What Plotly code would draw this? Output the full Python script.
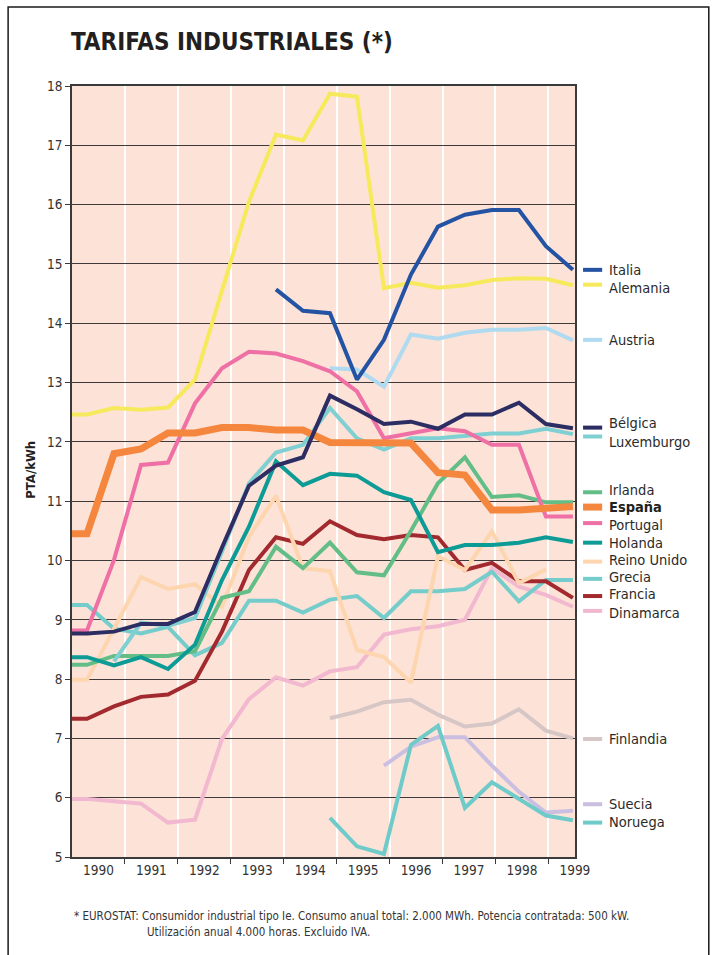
import plotly.graph_objects as go

# Semesters; the first entry only provides the lead-in at the left edge of the plot
periodos = ["1989-II",
            "1990-I", "1990-II", "1991-I", "1991-II", "1992-I", "1992-II",
            "1993-I", "1993-II", "1994-I", "1994-II", "1995-I", "1995-II",
            "1996-I", "1996-II", "1997-I", "1997-II", "1998-I", "1998-II",
            "1999-I"]
anios = ["1990", "1991", "1992", "1993", "1994", "1995", "1996", "1997", "1998", "1999"]

N = None
italia = [N, N, N, N, N, N, N, N, 14.57, 14.21, 14.17, 13.05, 13.72, 14.82, 15.63, 15.83, 15.91, 15.91, 15.30, 14.90]
alemania = [12.46, 12.46, 12.57, 12.54, 12.58, 13.05, 14.55, 16.05, 17.18, 17.08, 17.87, 17.82, 14.59, 14.68, 14.60, 14.64, 14.73, 14.76, 14.75, 14.64]
austria = [N, N, N, N, N, N, N, N, N, N, 13.24, 13.22, 12.93, 13.81, 13.74, 13.84, 13.89, 13.89, 13.92, 13.71]
belgica = [8.77, 8.77, 8.80, 8.93, 8.93, 9.13, 10.22, 11.26, 11.60, 11.74, 12.78, 12.55, 12.30, 12.34, 12.22, 12.46, 12.46, 12.66, 12.30, 12.23]
luxemburgo = [N, N, 8.30, 8.95, 8.90, 9.03, 10.15, 11.30, 11.82, 11.95, 12.57, 12.06, 11.87, 12.06, 12.06, 12.10, 12.14, 12.14, 12.22, 12.13]
irlanda = [8.24, 8.24, 8.39, 8.39, 8.39, 8.47, 9.37, 9.48, 10.23, 9.87, 10.30, 9.80, 9.75, 10.50, 11.30, 11.74, 11.07, 11.10, 10.98, 10.98]
espana = [10.45, 10.45, 11.80, 11.88, 12.15, 12.15, 12.24, 12.24, 12.20, 12.20, 11.99, 11.99, 11.99, 11.98, 11.48, 11.44, 10.85, 10.85, 10.88, 10.91]
portugal = [8.82, 8.82, 10.01, 11.61, 11.65, 12.65, 13.24, 13.52, 13.49, 13.36, 13.19, 12.85, 12.06, 12.15, 12.23, 12.18, 11.95, 11.95, 10.74, 10.74]
holanda = [8.37, 8.37, 8.23, 8.37, 8.17, 8.58, 9.67, 10.57, 11.67, 11.27, 11.46, 11.43, 11.15, 11.02, 10.14, 10.26, 10.26, 10.30, 10.39, 10.31]
reino_unido = [7.99, 7.99, 8.85, 9.72, 9.52, 9.60, 9.22, 10.40, 11.09, 9.87, 9.82, 8.49, 8.37, 7.94, 10.07, 9.84, 10.49, 9.62, 9.85, N]
grecia = [9.25, 9.25, 8.85, 8.77, 8.88, 8.40, 8.61, 9.32, 9.32, 9.12, 9.34, 9.40, 9.03, 9.48, 9.48, 9.52, 9.81, 9.31, 9.67, 9.67]
francia = [7.33, 7.33, 7.54, 7.70, 7.74, 7.97, 8.80, 9.84, 10.39, 10.28, 10.66, 10.43, 10.36, 10.43, 10.39, 9.84, 9.96, 9.65, 9.65, 9.37]
dinamarca = [5.98, 5.98, 5.94, 5.90, 5.58, 5.63, 6.99, 7.66, 8.03, 7.89, 8.13, 8.20, 8.75, 8.84, 8.89, 9.00, 9.87, 9.56, 9.42, 9.22]
finlandia = [N, N, N, N, N, N, N, N, N, N, 7.34, 7.45, 7.61, 7.65, 7.40, 7.20, 7.25, 7.49, 7.13, 7.00]
suecia = [N, N, N, N, N, N, N, N, N, N, N, N, 6.54, 6.86, 7.02, 7.02, 6.54, 6.10, 5.75, 5.78]
noruega = [N, N, N, N, N, N, N, N, N, N, 5.66, 5.18, 5.05, 6.89, 7.21, 5.83, 6.26, 5.98, 5.70, 5.62]

# name, values, colour, line width, bold label,
# key-line height and label height on the value axis (PTA/kWh)
series = [
    ("Dinamarca", dinamarca, "#F2B8CF", 4, False, 9.15, 9.12),
    ("Finlandia", finlandia, "#D6C6C6", 4, False, 6.99, 6.99),
    ("Suecia", suecia, "#CABFE0", 4, False, 5.89, 5.89),
    ("Noruega", noruega, "#6FCBC9", 4, False, 5.58, 5.59),
    ("Grecia", grecia, "#74CDCB", 4, False, 9.69, 9.72),
    ("Francia", francia, "#A2292D", 4, False, 9.40, 9.43),
    ("Reino Unido", reino_unido, "#FDD6B0", 4, False, 9.98, 10.01),
    ("Irlanda", irlanda, "#62BE86", 4, False, 11.15, 11.19),
    ("Holanda", holanda, "#0D9B96", 4, False, 10.30, 10.30),
    ("Luxemburgo", luxemburgo, "#7FD0D2", 4, False, 12.09, 12.00),
    ("Austria", austria, "#B0DAF0", 4, False, 13.72, 13.72),
    ("Portugal", portugal, "#EF70A4", 4, False, 10.63, 10.60),
    ("España", espana, "#F5863E", 7, True, 10.90, 10.90),
    ("Bélgica", belgica, "#2B2D63", 4, False, 12.24, 12.32),
    ("Alemania", alemania, "#F6EA5C", 4, False, 14.65, 14.60),
    ("Italia", italia, "#2453A4", 4, False, 14.90, 14.90),
]

FONT = "DejaVu Sans Condensed, Liberation Sans Narrow, Arial Narrow, sans-serif"
x_sem = [i - 1 for i in range(len(periodos))]

# Axis geometry in semester units: year bands start at X_START and span YEAR_W
X_START = -0.556
YEAR_W = 1.961
X_END = X_START + YEAR_W * 9.5

fig = go.Figure()
shapes = []
annotations = []
for name, vals, color, width, bold, ykey, ylab in series:
    fig.add_trace(go.Scatter(
        x=x_sem, y=vals, mode="lines", name=name,
        line=dict(color=color, width=width),
        connectgaps=False, showlegend=False,
    ))
    shapes.append(dict(type="line", xref="paper", yref="y",
                       x0=1.016, x1=1.054, y0=ykey, y1=ykey,
                       line=dict(color=color, width=width)))
    annotations.append(dict(
        xref="paper", yref="y", x=1.064, y=ylab, xanchor="left", yanchor="middle",
        text=f"<b>{name}</b>" if bold else name, showarrow=False,
        font=dict(family=FONT, size=14.5, color="#231F20" if bold else "#2a2a2a"),
    ))

# outer frame
shapes.append(dict(type="rect", xref="paper", yref="paper",
                   x0=-0.127, x1=1.266, y0=-0.14, y1=1.1025,
                   line=dict(color="#1a1a1a", width=1.5), layer="below"))

annotations += [
    dict(xref="paper", yref="paper", x=-0.006, y=1.057, xanchor="left", yanchor="middle",
         text="<b>TARIFAS INDUSTRIALES (*)</b>", showarrow=False,
         font=dict(family=FONT, size=24, color="#231F20")),
    dict(xref="paper", yref="paper", x=-0.082, y=0.502, xanchor="center", yanchor="middle",
         textangle=-90, text="<b>PTA/kWh</b>", showarrow=False,
         font=dict(family=FONT, size=13, color="#231F20")),
    dict(xref="paper", yref="paper", x=0.0, y=-0.0765, xanchor="left", yanchor="middle",
         text="* EUROSTAT: Consumidor industrial tipo Ie. Consumo anual total: 2.000 MWh. "
              "Potencia contratada: 500 kW.", showarrow=False,
         font=dict(family=FONT, size=11.5, color="#333333")),
    dict(xref="paper", yref="paper", x=0.145, y=-0.0973, xanchor="left", yanchor="middle",
         text="Utilización anual 4.000 horas. Excluido IVA.", showarrow=False,
         font=dict(family=FONT, size=11.5, color="#333333")),
]

fig.update_layout(
    width=715, height=955,
    margin=dict(l=72, r=140, t=86, b=98),
    paper_bgcolor="white",
    plot_bgcolor="#FCE2D7",
    shapes=shapes,
    annotations=annotations,
    font=dict(family=FONT, size=14, color="#333333"),
)
fig.update_xaxes(
    range=[X_START, X_END + 0.004],
    tickmode="array",
    tickvals=[X_START + YEAR_W * (i + 0.5) for i in range(len(anios))],
    ticktext=anios,
    ticks="", showgrid=False, zeroline=False,
    showline=True, linecolor="#3a3a3a", linewidth=1.5, mirror=True,
    tickfont=dict(family=FONT, size=13.5, color="#333333"),
    minor=dict(tickmode="array",
               tickvals=[X_START + YEAR_W * i for i in range(1, 10)],
               ticks="outside", ticklen=5, tickwidth=1, tickcolor="#3a3a3a",
               showgrid=True, gridcolor="white", gridwidth=1.5),
)
fig.update_yaxes(
    range=[5, 18], dtick=1, tick0=5,
    ticks="outside", ticklen=5, tickcolor="#3a3a3a",
    showgrid=True, gridcolor="#3f3a3a", gridwidth=1.3, zeroline=False,
    showline=True, linecolor="#3a3a3a", linewidth=1.5, mirror=True,
    tickfont=dict(family=FONT, size=13.5, color="#333333"),
)

fig.write_html("out.html")
